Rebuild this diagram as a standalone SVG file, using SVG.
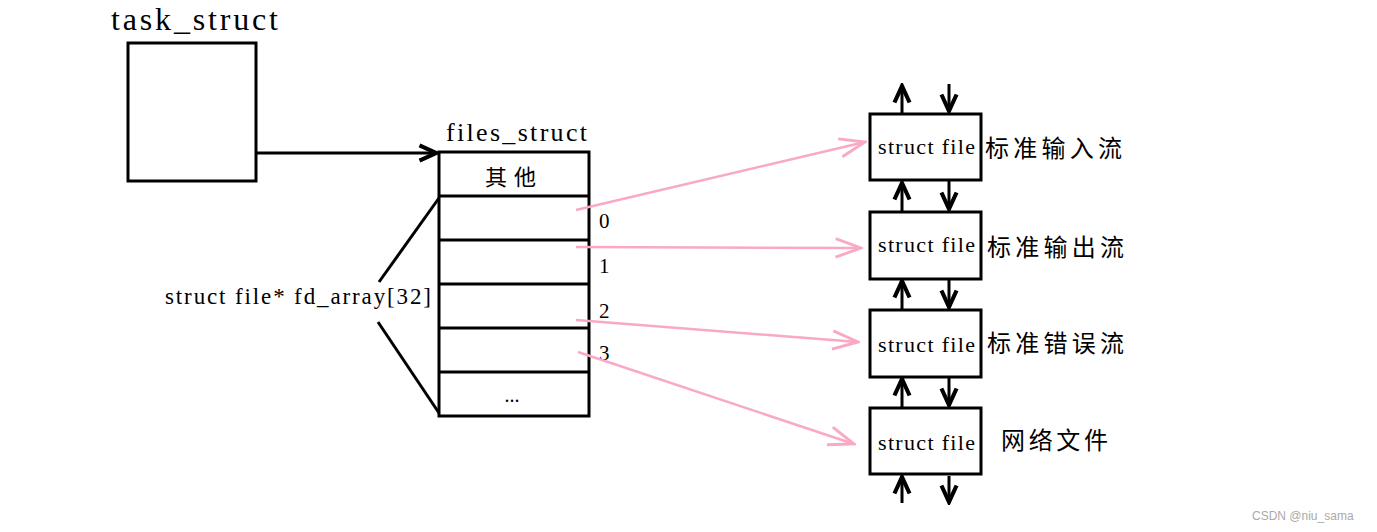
<svg xmlns="http://www.w3.org/2000/svg" width="1377" height="532" viewBox="0 0 1377 532">
<style>
.box{fill:#fff;stroke:#000;stroke-width:3}
.ln{stroke:#000;stroke-width:3;fill:none}
.pk{stroke:#f9a8c6;stroke-width:2.5;fill:none}
.t{font-family:"Liberation Serif",serif;fill:#000}
.cn{font-family:"Liberation Serif","Noto Sans CJK SC",serif;fill:#000}
</style>
<defs>
<marker id="ab" markerUnits="userSpaceOnUse" markerWidth="22" markerHeight="22" refX="14" refY="8" orient="auto" viewBox="0 0 16 16">
<path d="M2,2.5 L14,8 L2,13.5" fill="none" stroke="#000" stroke-width="3"/>
</marker>
<marker id="ap" markerUnits="userSpaceOnUse" markerWidth="30" markerHeight="24" refX="24" refY="10" orient="auto" viewBox="0 0 26 20">
<path d="M2,2 L24,10 L2,18" fill="none" stroke="#f9a8c6" stroke-width="2.5"/>
</marker>
</defs>
<rect width="1377" height="532" fill="#fff"/>
<g id="task_struct">
<text class="t" x="111" y="30" font-size="32" textLength="167" lengthAdjust="spacing">task_struct</text>
<rect class="box" x="128" y="43" width="128" height="138"/>
</g>
<g id="files_struct">
<text class="t" x="446" y="141" font-size="26" textLength="141" lengthAdjust="spacing">files_struct</text>
<rect class="box" x="439" y="152" width="150" height="264"/>
<line class="ln" x1="439" y1="196" x2="589" y2="196"/>
<line class="ln" x1="439" y1="240" x2="589" y2="240"/>
<line class="ln" x1="439" y1="284" x2="589" y2="284"/>
<line class="ln" x1="439" y1="328" x2="589" y2="328"/>
<line class="ln" x1="439" y1="372" x2="589" y2="372"/>
<text class="cn" x="485" y="185" font-size="22" textLength="51" lengthAdjust="spacing">其他</text>
<text class="t" x="512" y="402" font-size="20" text-anchor="middle">...</text>
<text class="t" x="599" y="228" font-size="21">0</text>
<text class="t" x="599" y="273" font-size="21">1</text>
<text class="t" x="599" y="318" font-size="21">2</text>
<text class="t" x="599" y="360" font-size="21">3</text>
</g>
<g id="fd_array_label">
<text class="t" x="165" y="304" font-size="23" textLength="266" lengthAdjust="spacing">struct file* fd_array[32]</text>
<line class="ln" x1="439" y1="198" x2="379" y2="282"/>
<line class="ln" x1="378" y1="322" x2="439" y2="413"/>
</g>
<g id="file0">
<rect class="box" x="870" y="114" width="111" height="66"/>
<text class="t" x="878" y="154" font-size="22" textLength="97" lengthAdjust="spacing">struct file</text>
<text class="cn" x="985" y="157" font-size="24" textLength="137" lengthAdjust="spacing">标准输入流</text>
</g>
<g id="file1">
<rect class="box" x="870" y="212" width="111" height="67"/>
<text class="t" x="878" y="252" font-size="22" textLength="97" lengthAdjust="spacing">struct file</text>
<text class="cn" x="987" y="256" font-size="24" textLength="137" lengthAdjust="spacing">标准输出流</text>
</g>
<g id="file2">
<rect class="box" x="870" y="310" width="111" height="67"/>
<text class="t" x="878" y="352" font-size="22" textLength="97" lengthAdjust="spacing">struct file</text>
<text class="cn" x="987" y="352" font-size="24" textLength="137" lengthAdjust="spacing">标准错误流</text>
</g>
<g id="file3">
<rect class="box" x="870" y="408" width="111" height="66"/>
<text class="t" x="878" y="450" font-size="22" textLength="97" lengthAdjust="spacing">struct file</text>
<text class="cn" x="1001" y="449" font-size="24" textLength="107" lengthAdjust="spacing">网络文件</text>
</g>
<g id="connectors">
<line class="ln" x1="257" y1="153" x2="436" y2="153" marker-end="url(#ab)"/>
<line class="pk" x1="576" y1="210" x2="865" y2="142" marker-end="url(#ap)"/>
<line class="pk" x1="576" y1="247" x2="861" y2="248" marker-end="url(#ap)"/>
<line class="pk" x1="576" y1="320" x2="858" y2="342" marker-end="url(#ap)"/>
<line class="pk" x1="578" y1="352" x2="854" y2="444" marker-end="url(#ap)"/>
<line class="ln" x1="902" y1="113" x2="902" y2="86" marker-end="url(#ab)"/>
<line class="ln" x1="949" y1="84" x2="949" y2="111" marker-end="url(#ab)"/>
<line class="ln" x1="902" y1="211" x2="902" y2="183" marker-end="url(#ab)"/>
<line class="ln" x1="949" y1="181" x2="949" y2="209" marker-end="url(#ab)"/>
<line class="ln" x1="902" y1="309" x2="902" y2="281" marker-end="url(#ab)"/>
<line class="ln" x1="949" y1="279" x2="949" y2="307" marker-end="url(#ab)"/>
<line class="ln" x1="902" y1="407" x2="902" y2="379" marker-end="url(#ab)"/>
<line class="ln" x1="949" y1="377" x2="949" y2="405" marker-end="url(#ab)"/>
<line class="ln" x1="902" y1="503" x2="902" y2="477" marker-end="url(#ab)"/>
<line class="ln" x1="949" y1="476" x2="949" y2="502" marker-end="url(#ab)"/>
</g>
<text x="1252" y="520" font-family="Liberation Sans,sans-serif" font-size="12" fill="#aaa">CSDN @niu_sama</text>
</svg>
